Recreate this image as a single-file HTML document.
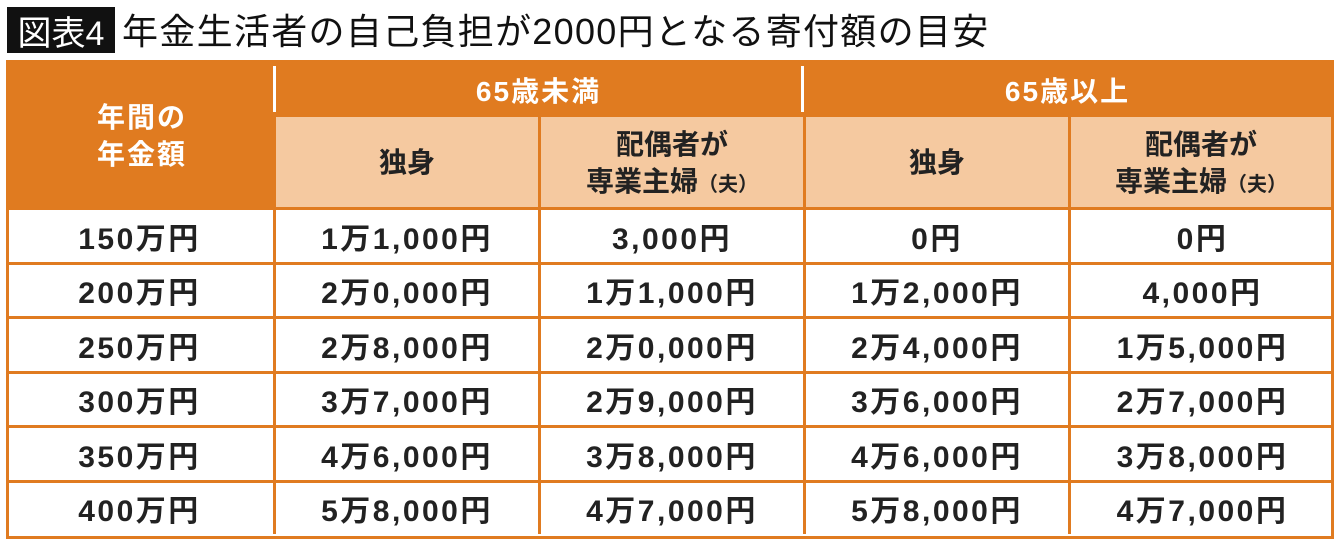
<!DOCTYPE html>
<html><head><meta charset="utf-8"><style>
body{margin:0;width:1340px;height:544px;background:#fff;position:relative;overflow:hidden;font-family:"Liberation Sans","Noto Sans CJK JP",sans-serif;}
.abs{position:absolute;box-sizing:border-box;display:flex;align-items:center;justify-content:center;text-align:center;}
#badge{left:7px;top:7px;width:108px;height:46px;background:#111;color:#fff;font-size:34px;}
#title{left:122px;top:4px;height:50px;font-size:36px;letter-spacing:1.3px;color:#111;justify-content:flex-start;white-space:nowrap;}
.or{background:#E07B20;color:#fff;font-weight:bold;font-size:28px;letter-spacing:2px;}
.pe{background:#F5C9A0;color:#222;font-weight:bold;font-size:28px;line-height:1.3;border-left:3px solid #E07B20;}
.cell{background:#fff;color:#222;font-weight:bold;font-size:30px;letter-spacing:2.5px;border-left:3px solid #E07B20;border-top:3px solid #E07B20;}
small{font-size:20px;}
#frame{z-index:5;}
</style></head><body>
<div class="abs" id="badge">図表4</div>
<div class="abs" id="title">年金生活者の自己負担が2000円となる寄付額の目安</div>
<div class="abs or" style="left:9px;top:63px;width:1322px;height:147px;"></div>
<div class="abs or" style="left:9px;top:63px;width:266px;height:147px;line-height:1.3;"><span>年間の<br>年金額</span></div>
<div class="abs" style="left:273px;top:66px;width:3px;height:46px;background:#fff;"></div>
<div class="abs" style="left:801px;top:66px;width:3px;height:46px;background:#fff;"></div>
<div class="abs or" style="left:276px;top:63px;width:525px;height:54px;">65歳未満</div>
<div class="abs or" style="left:804px;top:63px;width:527px;height:54px;">65歳以上</div>
<div class="abs pe" style="left:273px;top:117px;width:265px;height:93px;">独身</div>
<div class="abs pe" style="left:538px;top:117px;width:265px;height:93px;"><span>配偶者が<br>専業主婦<small>（夫）</small></span></div>
<div class="abs pe" style="left:803px;top:117px;width:265px;height:93px;">独身</div>
<div class="abs pe" style="left:1068px;top:117px;width:263px;height:93px;"><span>配偶者が<br>専業主婦<small>（夫）</small></span></div>
<div id="rows"></div>
<div class="abs" id="frame" style="left:6px;top:60px;width:1328px;height:479px;border:3px solid #E07B20;"></div>
<script>
const incomes=["150万円","200万円","250万円","300万円","350万円","400万円"];
const under65Single=["1万1,000円","2万0,000円","2万8,000円","3万7,000円","4万6,000円","5万8,000円"];
const under65Spouse=["3,000円","1万1,000円","2万0,000円","2万9,000円","3万8,000円","4万7,000円"];
const over65Single=["0円","1万2,000円","2万4,000円","3万6,000円","4万6,000円","5万8,000円"];
const over65Spouse=["0円","4,000円","1万5,000円","2万7,000円","3万8,000円","4万7,000円"];
const cols=[incomes,under65Single,under65Spouse,over65Single,over65Spouse];
const xs=[6,273,538,803,1068,1334];
const host=document.getElementById('rows');
for(let r=0;r<incomes.length;r++){
  for(let c=0;c<cols.length;c++){
    const d=document.createElement('div');
    d.className='abs cell';
    
    
    const top=207+r*54.5;
    d.style.left=xs[c]+'px';d.style.top=top+'px';
    d.style.width=(xs[c+1]-xs[c])+'px';d.style.height='54.5px';
    if(c===0){d.style.borderLeft='none';}
    d.textContent=cols[c][r];
    host.appendChild(d);
  }
}
</script>
</body></html>
